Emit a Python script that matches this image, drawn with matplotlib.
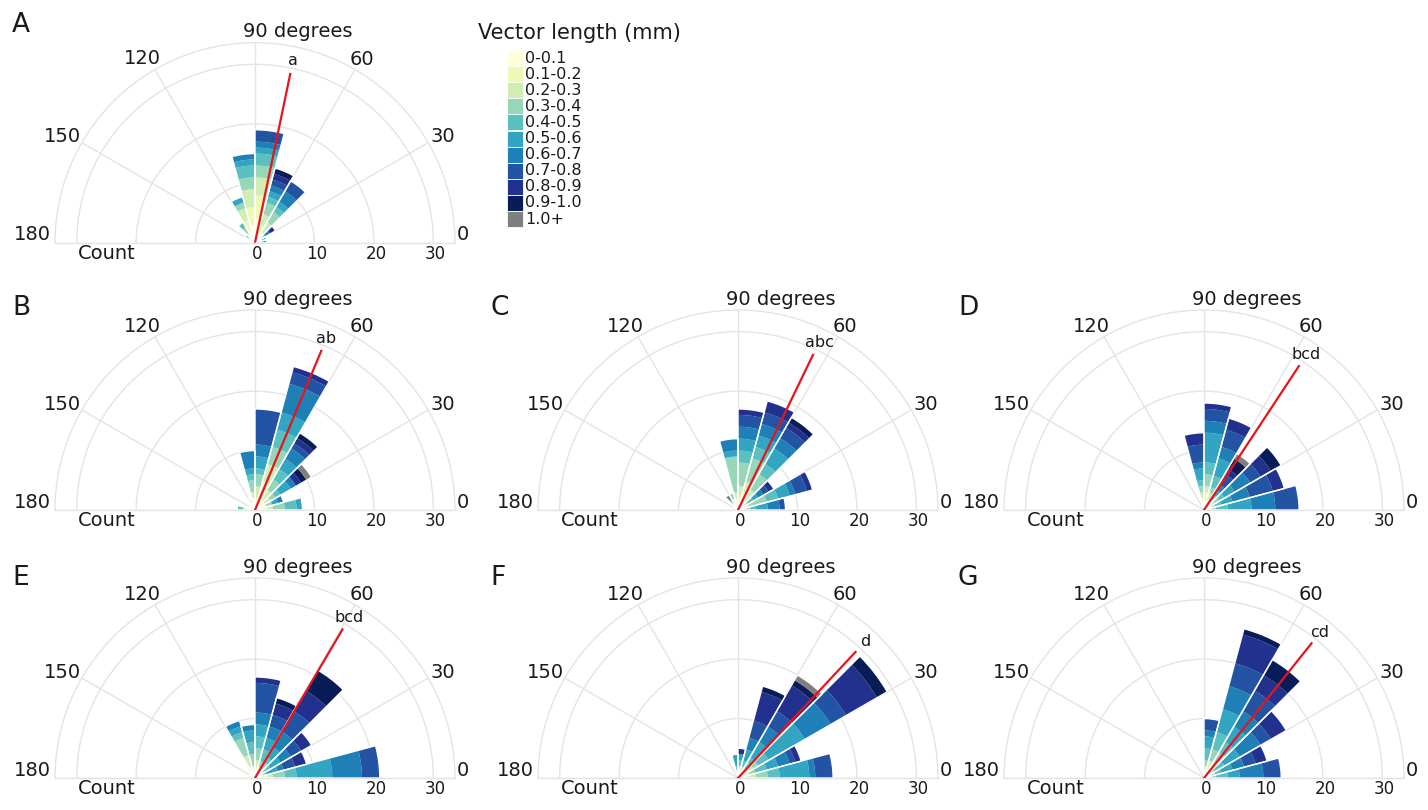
import numpy as np
import matplotlib
matplotlib.use("Agg")
import matplotlib.pyplot as plt
from matplotlib.transforms import offset_copy
from matplotlib.patches import Rectangle

# 15 degree direction bins (start of each bin, degrees)
bin_starts = [0, 15, 30, 45, 60, 75, 90, 105, 120, 135, 150, 165]

length_classes = ["0-0.1", "0.1-0.2", "0.2-0.3", "0.3-0.4", "0.4-0.5", "0.5-0.6",
                  "0.6-0.7", "0.7-0.8", "0.8-0.9", "0.9-1.0", "1.0+"]

# counts per direction bin (rows) and vector length class (columns)
counts_A = [
    [0, 0, 0, 0, 1, 1, 0, 0, 0, 0, 0],
    [0, 0, 0, 1, 0, 1, 0, 0, 0, 0, 0],
    [1, 0, 0, 1, 0, 0, 1, 0, 1, 0, 0],
    [1, 1, 2, 2, 1, 1, 2, 2, 0, 0, 0],
    [1, 2, 2, 2, 1, 1, 1, 1, 1, 1, 0],
    [4, 4, 3, 2, 2, 1, 1, 2, 0, 0, 0],
    [3, 3, 3, 2, 2, 1, 1, 0, 0, 0, 0],
    [2, 2, 2, 1, 0, 1, 0, 0, 0, 0, 0],
    [0, 1, 1, 1, 1, 0, 0, 0, 0, 0, 0],
    [0, 0, 1, 0, 1, 0, 0, 0, 0, 0, 0],
    [0, 1, 0, 0, 0, 0, 0, 0, 0, 0, 0],
    [1, 0, 0, 0, 0, 0, 0, 0, 0, 0, 0],
]
counts_B = [
    [1, 1, 1, 2, 2, 1, 0, 0, 0, 0, 0],
    [1, 1, 0, 1, 0, 1, 1, 0, 0, 0, 0],
    [1, 1, 1, 1, 1, 2, 1, 0, 1, 1, 1],
    [1, 1, 2, 2, 2, 2, 2, 1, 1, 1, 0],
    [2, 3, 3, 3, 3, 3, 5, 2, 1, 0, 0],
    [1, 1, 2, 2, 1, 2, 2, 6, 0, 0, 0],
    [1, 1, 1, 2, 1, 1, 3, 0, 0, 0, 0],
    [1, 0, 1, 0, 0, 0, 0, 0, 0, 0, 0],
    [0, 1, 0, 0, 0, 0, 0, 0, 0, 0, 0],
    [0, 1, 0, 0, 0, 0, 0, 0, 0, 0, 0],
    [0, 0, 0, 1, 0, 0, 0, 0, 0, 0, 0],
    [0, 1, 1, 0, 1, 0, 0, 0, 0, 0, 0],
]
counts_C = [
    [0, 0, 1, 1, 1, 2, 2, 1, 0, 0, 0],
    [0, 1, 1, 3, 2, 2, 1, 2, 1, 0, 0],
    [0, 1, 0, 1, 1, 1, 1, 1, 1, 0, 0],
    [1, 1, 2, 3, 2, 3, 2, 2, 1, 1, 0],
    [1, 2, 2, 4, 2, 2, 2, 2, 2, 0, 0],
    [1, 1, 2, 4, 2, 2, 2, 2, 1, 0, 0],
    [1, 1, 1, 6, 0, 1, 2, 0, 0, 0, 0],
    [1, 1, 0, 1, 0, 0, 0, 0, 0, 0, 0],
    [0, 0, 1, 0, 1, 0, 0, 0, 0, 0, 1],
    [0, 0, 1, 0, 0, 0, 0, 0, 0, 0, 0],
    [0, 0, 0, 0, 0, 0, 0, 0, 0, 0, 0],
    [0, 0, 0, 0, 0, 0, 0, 0, 0, 0, 0],
]
counts_D = [
    [0, 1, 0, 1, 2, 4, 4, 4, 0, 0, 0],
    [1, 0, 0, 1, 1, 2, 3, 4, 2, 0, 0],
    [1, 0, 1, 1, 1, 2, 3, 2, 2, 2, 0],
    [1, 0, 1, 0, 1, 1, 1, 2, 1, 2, 1],
    [1, 1, 1, 1, 2, 3, 2, 3, 2, 0, 0],
    [1, 2, 1, 2, 2, 5, 2, 2, 1, 0, 0],
    [1, 1, 1, 1, 1, 2, 1, 3, 2, 0, 0],
    [0, 0, 0, 0, 1, 0, 0, 0, 0, 0, 0],
    [0, 0, 0, 0, 0, 0, 0, 0, 0, 0, 0],
    [0, 0, 0, 0, 0, 0, 0, 0, 0, 0, 0],
    [0, 0, 0, 0, 0, 0, 0, 0, 0, 0, 0],
    [0, 0, 0, 0, 0, 0, 0, 0, 0, 0, 0],
]
counts_E = [
    [1, 1, 1, 2, 2, 6, 5, 3, 0, 0, 0],
    [0, 0, 1, 0, 1, 2, 1, 2, 2, 0, 0],
    [1, 0, 0, 1, 1, 2, 2, 2, 2, 0, 0],
    [1, 0, 1, 1, 1, 2, 3, 4, 4, 4, 0],
    [1, 0, 1, 1, 2, 2, 2, 2, 2, 1, 0],
    [1, 1, 1, 2, 2, 2, 2, 5, 1, 0, 0],
    [0, 1, 1, 2, 2, 2, 1, 0, 0, 0, 0],
    [1, 1, 2, 3, 1, 1, 1, 0, 0, 0, 0],
    [1, 1, 0, 0, 0, 0, 0, 0, 0, 0, 0],
    [0, 1, 0, 0, 0, 0, 0, 0, 0, 0, 0],
    [0, 0, 0, 0, 0, 0, 0, 0, 0, 0, 0],
    [0, 0, 0, 0, 0, 0, 0, 0, 0, 0, 0],
]
counts_F = [
    [0, 1, 2, 2, 2, 5, 1, 3, 0, 0, 0],
    [1, 0, 1, 1, 2, 2, 2, 1, 1, 0, 0],
    [1, 1, 1, 1, 2, 7, 5, 3, 6, 2, 0],
    [1, 0, 1, 1, 1, 3, 3, 3, 5, 1, 1],
    [1, 0, 0, 1, 1, 2, 2, 3, 5, 1, 0],
    [1, 0, 1, 0, 1, 1, 0, 0, 1, 0, 0],
    [0, 0, 1, 0, 1, 2, 0, 0, 0, 0, 0],
    [0, 0, 0, 0, 0, 0, 0, 0, 0, 0, 0],
    [0, 0, 0, 0, 0, 0, 0, 0, 0, 0, 0],
    [0, 0, 0, 0, 0, 0, 0, 0, 0, 0, 0],
    [0, 0, 0, 0, 0, 0, 0, 0, 0, 0, 0],
    [0, 0, 0, 0, 0, 0, 0, 0, 0, 0, 0],
]
counts_G = [
    [0, 0, 1, 1, 2, 2, 4, 3, 0, 0, 0],
    [0, 0, 1, 1, 1, 2, 2, 2, 2, 0, 0],
    [1, 0, 0, 1, 2, 3, 4, 2, 3, 0, 0],
    [1, 1, 1, 2, 2, 3, 3, 4, 3, 3, 0],
    [1, 1, 1, 2, 3, 4, 4, 4, 5, 1, 0],
    [1, 0, 1, 1, 2, 2, 1, 2, 0, 0, 0],
    [0, 0, 0, 0, 0, 0, 0, 0, 0, 0, 0],
    [0, 0, 0, 0, 0, 0, 0, 0, 0, 0, 0],
    [0, 0, 0, 0, 0, 0, 0, 0, 0, 0, 0],
    [0, 0, 0, 0, 0, 0, 0, 0, 0, 0, 0],
    [0, 0, 0, 0, 0, 0, 0, 0, 0, 0, 0],
    [0, 0, 0, 0, 0, 0, 0, 0, 0, 0, 0],
]

panel_letters = ["A", "B", "C", "D", "E", "F", "G"]
mean_dirs = [78.2, 67.4, 64.2, 56.6, 59.5, 47.0, 51.4]  # degrees
group_labels = ["a", "ab", "abc", "bcd", "bcd", "d", "cd"]
all_counts = [counts_A, counts_B, counts_C, counts_D, counts_E, counts_F, counts_G]

radial_ticks = [0, 10, 20, 30]
angle_ticks = ["0", "30", "60", "90 degrees", "120", "150", "180"]

# ---- styling / layout ----
W, H = 1428, 810
R_PX = 200          # outer radius of each half rose in pixels
R_MAX = 33.65       # radial range
MEAN_LEN = 29
grid_col = "#e4e4e4"
text_col = "#1a1a1a"
class_colors = list(plt.get_cmap("YlGnBu")(np.linspace(0, 1, 10))) + ["#7f7f7f"]

# centres of the panels (pixels from top-left)
centres = [(255, 242.7), (255, 510), (738, 510), (1204, 510),
           (255, 778), (738, 778), (1204, 778)]
letter_pos = [(12, 32), (12, 315), (490, 315), (958, 315),
              (12, 585), (490, 585), (958, 585)]
# angle, radius of the angular tick labels (placed by hand like the original)
angle_label_pos = [(2.2, 35.0), (29.4, 36.3), (59.7, 35.7), (78.5, 36.2),
                   (121.6, 36.3), (151.2, 37.0), (178.0, 37.5)]

plt.rcParams["font.family"] = "DejaVu Sans"
fig = plt.figure(figsize=(W / 100, H / 100), dpi=100)


def draw_rose(ax, counts, mean_dir, group):
    counts = np.array(counts, dtype=float)
    theta = np.deg2rad(np.array(bin_starts) + 7.5)
    width = np.deg2rad(15)
    bottom = np.zeros(len(bin_starts))
    for k, col in enumerate(class_colors):
        h = counts[:, k]
        m = h > 0
        if m.any():
            ax.bar(theta[m], h[m], width=width, bottom=bottom[m],
                   color=col, linewidth=0, zorder=3)
        bottom += h
    # white outline around each whole bar -> gaps between neighbouring bars
    m = bottom > 0
    ax.bar(theta[m], bottom[m], width=width, fill=False, edgecolor="white",
           linewidth=1.0, zorder=4)

    # mean direction
    th = np.deg2rad(mean_dir)
    ax.plot([th, th], [0, MEAN_LEN], color="#e8141c", lw=1.6, zorder=5)
    ax.text(th, MEAN_LEN + 2.3, group, ha="center", va="center",
            fontsize=11.5, color=text_col)

    ax.set_thetamin(0)
    ax.set_thetamax(180)
    ax.set_ylim(0, R_MAX)
    ax.set_rticks([10, 20, 30])
    ax.set_yticklabels([])
    ax.set_thetagrids(range(0, 181, 30), labels=[""] * 7)
    ax.grid(True, color=grid_col, lw=1.0)
    ax.set_axisbelow(True)
    for sp in ax.spines.values():
        sp.set_color(grid_col)
        sp.set_linewidth(1.0)

    for (ang, rr), lab in zip(angle_label_pos, angle_ticks):
        ax.text(np.deg2rad(ang), rr, lab, ha="center", va="center",
                fontsize=14, color=text_col)

    below = offset_copy(ax.transData, fig=fig, x=0, y=-11, units="dots")
    for v in radial_ticks:
        ax.text(0, v + 0.4, str(v), transform=below, ha="center", va="center",
                fontsize=12, color=text_col)
    ax.text(np.pi, 25, "Count", transform=below, ha="center", va="center",
            fontsize=14, color=text_col)


for i, counts in enumerate(all_counts):
    cx, cy = centres[i]
    # polar wedge is fitted into a square box, half disk centred vertically
    box = [(cx - R_PX) / W, (H - (cy + R_PX / 2)) / H, 2 * R_PX / W, 2 * R_PX / H]
    ax = fig.add_axes(box, projection="polar")
    draw_rose(ax, counts, mean_dirs[i], group_labels[i])
    lx, ly = letter_pos[i]
    fig.text(lx / W, 1 - ly / H, panel_letters[i], fontsize=19,
             va="baseline", ha="left", color=text_col)

# legend for vector length classes
lax = fig.add_axes([470 / W, (H - 235) / H, 250 / W, 215 / H])
lax.set_xlim(470, 720)
lax.set_ylim(235, 20)
lax.axis("off")
lax.text(478, 33, "Vector length (mm)", ha="left", va="center",
         fontsize=15, color=text_col)
row_h = 16.1
for k, (lab, col) in enumerate(zip(length_classes, class_colors)):
    top = 50 + k * row_h
    lax.add_patch(Rectangle((507, top), 16, row_h, facecolor=col,
                            edgecolor="white", linewidth=0.6))
    lax.text(525, top + row_h / 2, lab, ha="left", va="center",
             fontsize=11.5, color=text_col)

fig.savefig("out.png", dpi=100)
